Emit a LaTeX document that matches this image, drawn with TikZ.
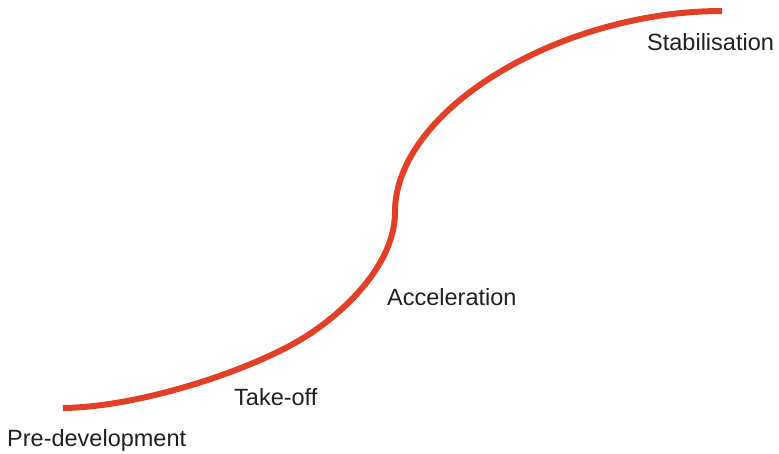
\documentclass[tikz,border=0pt]{standalone}
\usepackage{fontspec}
\setmainfont{Liberation Sans}
\usetikzlibrary{positioning}
\definecolor{curvered}{RGB}{227,62,38}

\begin{document}
\begin{tikzpicture}[x=1pt, y=-1pt,
    phase/.style={anchor=base west, inner sep=0pt, font=\fontsize{23.5}{28}\selectfont, text=black!88}]

            \useasboundingbox (0,0) rectangle (779,453);

            % S-curve of the phases
            \draw[line width=6pt, curvered] (63,408)
                .. controls (140,407) and (248,371) .. (300,340)
                .. controls (339,317) and (395,267) .. (395,212)
                .. controls (395,110) and (560,11) .. (722,11);

            \node[phase] (predev) at (7,446) {Pre-development};
            \node[phase] (takeoff) at (234,405) {Take-off};
            \node[phase] (accel) at (387,305) {Acceleration};
            \node[phase] (stab) at (647,50) {Stabilisation};

        \end{tikzpicture}
\end{document}
